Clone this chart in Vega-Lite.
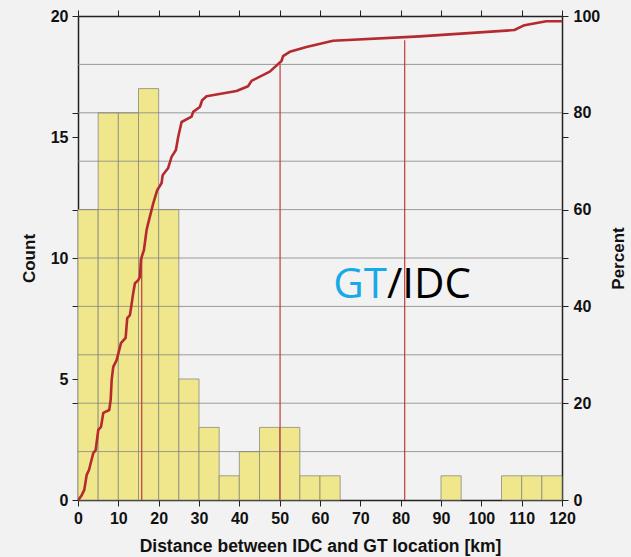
{
  "$schema": "https://vega.github.io/schema/vega-lite/v6.json",
  "width": 484,
  "height": 484,
  "autosize": {"type": "none"},
  "padding": {"left": 78, "top": 16, "right": 69, "bottom": 57},
  "background": "#f2f2f2",
  "config": {
    "view": {"stroke": null},
    "axis": {
      "domainColor": "#222",
      "domainWidth": 1.5,
      "tickColor": "#222",
      "tickWidth": 1,
      "tickSize": 6,
      "labelFont": "Liberation Sans",
      "labelFontWeight": "bold",
      "labelFontSize": 16,
      "labelColor": "#111",
      "titleFont": "Liberation Sans",
      "titleFontWeight": "bold",
      "titleFontSize": 17,
      "titleColor": "#111",
      "grid": false
    }
  },
  "datasets": {
    "hist": [
      {"bin_start": 0, "bin_end": 5, "count": 12},
      {"bin_start": 5, "bin_end": 10, "count": 16},
      {"bin_start": 10, "bin_end": 15, "count": 16},
      {"bin_start": 15, "bin_end": 20, "count": 17},
      {"bin_start": 20, "bin_end": 25, "count": 12},
      {"bin_start": 25, "bin_end": 30, "count": 5},
      {"bin_start": 30, "bin_end": 35, "count": 3},
      {"bin_start": 35, "bin_end": 40, "count": 1},
      {"bin_start": 40, "bin_end": 45, "count": 2},
      {"bin_start": 45, "bin_end": 50, "count": 3},
      {"bin_start": 50, "bin_end": 55, "count": 3},
      {"bin_start": 55, "bin_end": 60, "count": 1},
      {"bin_start": 60, "bin_end": 65, "count": 1},
      {"bin_start": 90, "bin_end": 95, "count": 1},
      {"bin_start": 105, "bin_end": 110, "count": 1},
      {"bin_start": 110, "bin_end": 115, "count": 1},
      {"bin_start": 115, "bin_end": 120, "count": 1}
    ],
    "grid": [
      {"level": 2}, {"level": 4}, {"level": 6}, {"level": 8}, {"level": 10},
      {"level": 12}, {"level": 14}, {"level": 16}, {"level": 18}
    ],
    "cdf": [
      {"km": 0.25, "pct": 0.2}, {"km": 0.92, "pct": 1.0}, {"km": 1.56, "pct": 2.1},
      {"km": 2.15, "pct": 5.2}, {"km": 2.72, "pct": 6.2}, {"km": 3.79, "pct": 9.7},
      {"km": 4.38, "pct": 10.3}, {"km": 5.03, "pct": 14.5}, {"km": 5.7, "pct": 15.1},
      {"km": 6.27, "pct": 18.0}, {"km": 7.75, "pct": 18.6}, {"km": 8.1, "pct": 20.7},
      {"km": 8.35, "pct": 24.8}, {"km": 8.74, "pct": 27.5}, {"km": 9.58, "pct": 28.9},
      {"km": 10.65, "pct": 32.4}, {"km": 11.81, "pct": 33.5}, {"km": 12.21, "pct": 37.6},
      {"km": 12.88, "pct": 38.2}, {"km": 13.7, "pct": 42.8}, {"km": 14.12, "pct": 44.8},
      {"km": 14.93, "pct": 45.4}, {"km": 15.35, "pct": 46.1}, {"km": 15.6, "pct": 49.6},
      {"km": 15.78, "pct": 50.2}, {"km": 16.34, "pct": 51.6}, {"km": 17.01, "pct": 55.8},
      {"km": 17.41, "pct": 57.2}, {"km": 18.65, "pct": 61.3}, {"km": 19.64, "pct": 64.0},
      {"km": 20.73, "pct": 65.5}, {"km": 20.98, "pct": 67.1}, {"km": 22.36, "pct": 68.6},
      {"km": 23.2, "pct": 70.9}, {"km": 24.27, "pct": 72.3}, {"km": 24.84, "pct": 75.0},
      {"km": 25.68, "pct": 78.1}, {"km": 28.16, "pct": 79.2}, {"km": 28.55, "pct": 80.2},
      {"km": 30.21, "pct": 81.2}, {"km": 30.78, "pct": 82.6}, {"km": 31.87, "pct": 83.4},
      {"km": 39.3, "pct": 84.5}, {"km": 42.17, "pct": 85.5}, {"km": 43.02, "pct": 86.6},
      {"km": 47.55, "pct": 88.5}, {"km": 50.45, "pct": 90.7}, {"km": 50.84, "pct": 91.7},
      {"km": 52.5, "pct": 92.6}, {"km": 56.64, "pct": 93.6}, {"km": 63.22, "pct": 94.9},
      {"km": 84.7, "pct": 95.8}, {"km": 108.2, "pct": 97.1}, {"km": 110.7, "pct": 98.1},
      {"km": 116.1, "pct": 98.9}, {"km": 119.8, "pct": 98.9}
    ],
    "pctl": [
      {"km": 15.8, "pct": 50},
      {"km": 50.1, "pct": 90},
      {"km": 81.0, "pct": 95}
    ]
  },
  "layer": [
    {
      "layer": [
        {
          "data": {"name": "hist"},
          "mark": {"type": "rect", "fill": "#f0e68c", "stroke": "#8a8a7a", "strokeWidth": 0.8},
          "encoding": {
            "x": {
              "field": "bin_start", "type": "quantitative",
              "scale": {"domain": [0, 120], "nice": false, "zero": false},
              "axis": {
                "orient": "bottom",
                "values": [0, 10, 20, 30, 40, 50, 60, 70, 80, 90, 100, 110, 120],
                "title": "Distance between IDC and GT location [km]",
                "titleFontSize": 17.5,
                "labelPadding": 4,
                "titlePadding": 11,
                "labelFlush": false
              }
            },
            "x2": {"field": "bin_end"},
            "y": {
              "field": "count", "type": "quantitative",
              "scale": {"domain": [0, 20], "nice": false},
              "axis": {
                "orient": "left",
                "values": [0, 4, 5, 8, 10, 12, 15, 16, 20],
                "labelExpr": "datum.value % 5 == 0 ? datum.label : ''",
                "title": "Count",
                "labelPadding": 4,
                "titlePadding": 12,
                "labelFlush": false
              }
            },
            "y2": {"datum": 0}
          }
        },
        {
          "data": {"name": "grid"},
          "mark": {"type": "rule", "color": "#858585", "strokeWidth": 1, "opacity": 0.8},
          "encoding": {
            "y": {"field": "level", "type": "quantitative"}
          }
        },
        {
          "data": {"name": "grid"},
          "transform": [{"filter": "datum.level == 2"}],
          "mark": {"type": "text", "text": "GT", "font": "Open Sans", "fontSize": 42, "color": "#17a9e8", "align": "right", "baseline": "alphabetic"},
          "encoding": {
            "x": {"datum": 76.6, "type": "quantitative"},
            "y": {"datum": 8.33, "type": "quantitative"}
          }
        },
        {
          "data": {"name": "grid"},
          "transform": [{"filter": "datum.level == 2"}],
          "mark": {"type": "text", "text": "/IDC", "font": "Open Sans", "fontSize": 42, "color": "#000000", "align": "left", "baseline": "alphabetic"},
          "encoding": {
            "x": {"datum": 76.6, "type": "quantitative"},
            "y": {"datum": 8.33, "type": "quantitative"}
          }
        }
      ]
    },
    {
      "layer": [
        {
          "data": {"name": "pctl"},
          "mark": {"type": "rule", "color": "#c0393b", "strokeWidth": 1.2},
          "encoding": {
            "x": {
              "field": "km", "type": "quantitative",
              "axis": {
                "orient": "top",
                "values": [0, 10, 20, 30, 40, 50, 60, 70, 80, 90, 100, 110, 120],
                "labels": false,
                "title": null
              }
            },
            "y": {
              "field": "pct", "type": "quantitative",
              "scale": {"domain": [0, 100], "nice": false},
              "axis": {
                "orient": "right",
                "values": [0, 20, 25, 40, 50, 60, 75, 80, 100],
                "labelExpr": "datum.value % 20 == 0 ? datum.label : ''",
                "title": "Percent",
                "titleAngle": -90,
                "labelPadding": 5,
                "titlePadding": 28,
                "labelFlush": false
              }
            },
            "y2": {"datum": 0}
          }
        },
        {
          "data": {"name": "cdf"},
          "mark": {"type": "line", "color": "#b52a2e", "strokeWidth": 2.6, "strokeJoin": "round", "strokeCap": "round"},
          "encoding": {
            "x": {"field": "km", "type": "quantitative"},
            "y": {"field": "pct", "type": "quantitative"}
          }
        }
      ]
    }
  ],
  "resolve": {"scale": {"y": "independent"}, "axis": {"x": "independent", "y": "independent"}}
}
